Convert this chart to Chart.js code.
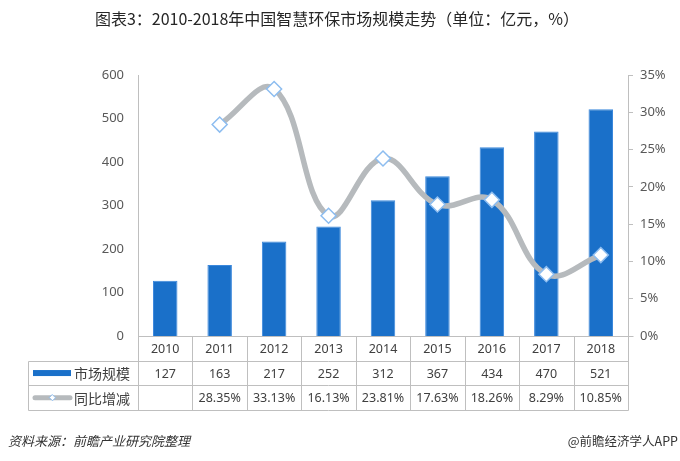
<!DOCTYPE html>
<html>
<head>
<meta charset="utf-8">
<script src="https://cdn.jsdelivr.net/npm/chart.js@4/dist/chart.umd.min.js"></script>
<style>
html,body{margin:0;padding:0;background:#fff;}
#wrap{position:relative;width:680px;height:461px;}
</style>
</head>
<body>
<div id="wrap"><canvas id="c" width="680" height="461"></canvas></div>
<script>
const titleText = '图表3：2010-2018年中国智慧环保市场规模走势（单位：亿元，%）';
const categories = ['2010','2011','2012','2013','2014','2015','2016','2017','2018'];
const marketSize = [127,163,217,252,312,367,434,470,521];
const growthRate = [null,28.35,33.13,16.13,23.81,17.63,18.26,8.29,10.85];
const seriesNames = ['市场规模','同比增减'];
const leftTickMax = 600, leftTickStep = 100;
const rightTickMax = 35, rightTickStep = 5;
const sourceText = '资料来源：前瞻产业研究院整理';
const brandText = '@前瞻经济学人APP';

const BAR = '#1a70c9';
const LINE = '#b6babd';
const MARK = '#8dbdf0';
const GRIDC = '#bfbfbf';
const TXT = '#404040';
const NUMFONT = '"Noto Sans", "Open Sans", sans-serif';
const CJK = '"Noto Sans CJK SC", sans-serif';

const tablePlugin = {
  id: 'tablePlugin',
  afterDraw(chart) {
    const ctx = chart.ctx;
    const ca = chart.chartArea;
    const x = chart.scales.x;
    const n = categories.length;
    const bounds = [ca.left];
    for (let i = 0; i < n - 1; i++) bounds.push((x.getPixelForValue(i) + x.getPixelForValue(i + 1)) / 2);
    bounds.push(ca.right);
    const rowH = 24.7;
    const r0 = ca.bottom, r1 = r0 + rowH, r2 = r1 + rowH, r3 = r2 + rowH;
    const tLeft = 28;
    ctx.save();
    ctx.strokeStyle = GRIDC;
    ctx.lineWidth = 1;
    const line = (x1, y1, x2, y2) => { ctx.beginPath(); ctx.moveTo(Math.round(x1)+0.5, Math.round(y1)+0.5); ctx.lineTo(Math.round(x2)+0.5, Math.round(y2)+0.5); ctx.stroke(); };
    line(ca.left, r0, ca.right + 5, r0);
    line(tLeft, r1, ca.right, r1);
    line(tLeft, r2, ca.right, r2);
    line(tLeft, r3, ca.right, r3);
    line(tLeft, r1, tLeft, r3);
    bounds.forEach(b => line(b, r0, b, r3));
    ctx.fillStyle = TXT;
    ctx.textAlign = 'center';
    ctx.textBaseline = 'middle';
    ctx.font = '12.5px ' + NUMFONT;
    for (let i = 0; i < n; i++) {
      const cx = x.getPixelForValue(i);
      ctx.fillText(categories[i], cx, (r0 + r1) / 2 + 1);
      ctx.fillText(String(marketSize[i]), cx, (r1 + r2) / 2 + 1);
      const g = growthRate[i];
      ctx.fillText(g == null ? '' : g.toFixed(2) + '%', cx, (r2 + r3) / 2 + 1);
    }
    ctx.fillStyle = BAR;
    ctx.fillRect(33, (r1 + r2) / 2 - 3, 38, 6);
    ctx.strokeStyle = LINE;
    ctx.lineWidth = 5;
    ctx.lineCap = 'round';
    ctx.beginPath();
    ctx.moveTo(35, (r2 + r3) / 2); ctx.lineTo(70, (r2 + r3) / 2); ctx.stroke();
    const my = (r2 + r3) / 2, mx = 52.5;
    ctx.fillStyle = '#fff';
    ctx.strokeStyle = MARK;
    ctx.lineWidth = 1;
    ctx.beginPath();
    ctx.moveTo(mx, my - 3); ctx.lineTo(mx + 3, my); ctx.lineTo(mx, my + 3); ctx.lineTo(mx - 3, my); ctx.closePath();
    ctx.fill(); ctx.stroke();
    ctx.fillStyle = TXT;
    ctx.textAlign = 'left';
    ctx.font = '14px ' + CJK;
    ctx.fillText(seriesNames[0], 74, (r1 + r2) / 2 + 1);
    ctx.fillText(seriesNames[1], 74, (r2 + r3) / 2 + 1);
    ctx.fillStyle = '#262626';
    ctx.textAlign = 'center';
    ctx.font = '16px ' + CJK;
    ctx.fillText(titleText, 337, 19);
    ctx.textAlign = 'left';
    ctx.font = 'italic 13px ' + CJK;
    ctx.fillStyle = '#333';
    ctx.fillText(sourceText, 8, 441);
    ctx.textAlign = 'right';
    ctx.font = '12.5px ' + CJK;
    ctx.fillText(brandText, 678, 441);
    ctx.restore();
  }
};

new Chart(document.getElementById('c'), {
  data: {
    labels: categories,
    datasets: [
      {
        type: 'line',
        label: seriesNames[1],
        data: growthRate,
        yAxisID: 'y1',
        borderColor: LINE,
        borderWidth: 5.5,
        tension: 0.4,
        fill: false,
        pointStyle: 'rectRot',
        pointRadius: 7.5,
        pointHoverRadius: 7.5,
        pointBackgroundColor: '#ffffff',
        pointBorderColor: MARK,
        pointBorderWidth: 1.5,
        order: 0
      },
      {
        type: 'bar',
        label: seriesNames[0],
        data: marketSize,
        yAxisID: 'y',
        backgroundColor: BAR,
        borderColor: '#3b88dc',
        borderWidth: 1,
        categoryPercentage: 1,
        barPercentage: 0.45,
        order: 1
      }
    ]
  },
  options: {
    responsive: false,
    animation: false,
    events: [],
    layout: { padding: { top: 75, bottom: 125, left: 0, right: 0 } },
    plugins: { legend: { display: false }, tooltip: { enabled: false }, title: { display: false } },
    scales: {
      x: { display: false, type: 'category', offset: true },
      y: {
        position: 'left',
        min: 0, max: leftTickMax,
        grid: { display: false, drawTicks: false },
        border: { display: true, color: GRIDC, width: 1 },
        ticks: { stepSize: leftTickStep, padding: 14, color: '#595959', font: { family: NUMFONT, size: 13 } },
        afterFit(s) { s.width = 138; }
      },
      y1: {
        position: 'right',
        min: 0, max: rightTickMax,
        grid: { display: true, drawOnChartArea: false, drawTicks: true, tickLength: 5, color: GRIDC },
        border: { display: true, color: GRIDC, width: 1 },
        ticks: { stepSize: rightTickStep, padding: 7, color: '#595959', font: { family: NUMFONT, size: 13 }, callback: v => v + '%' },
        afterFit(s) { s.width = 52; }
      }
    }
  },
  plugins: [tablePlugin]
});
</script>
</body>
</html>
